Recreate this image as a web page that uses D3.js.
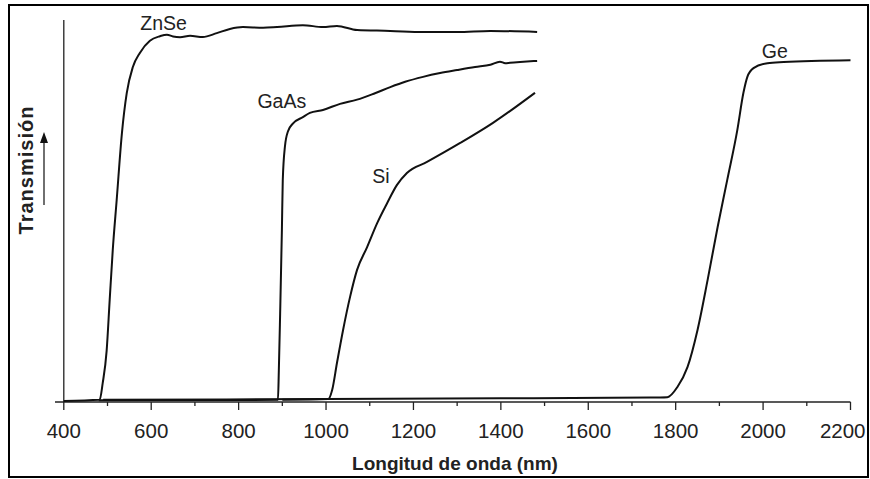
<!DOCTYPE html>
<html><head><meta charset="utf-8">
<script src="https://cdn.jsdelivr.net/npm/d3@7"></script>
<style>body{margin:0;background:#fff}svg{display:block}</style>
</head><body>
<script>
// wavelength (nm), transmission (relative, 0-100)
const ZnSe = [[400,0],[482,0.3],[489,4.7],[498,13.2],[505,26.6],[512,39.7],[521,52.9],[533,70.5],[544,81],[558,87.9],[574,91.6],[597,94.8],[620,96],[636,96.4],[650,95.9],[666,95.7],[689,96.1],[718,95.8],[750,96.8],[780,97.9],[810,98.4],[856,98.2],[888,98.4],[947,98.9],[993,98.4],[1025,98.7],[1071,97.6],[1147,97.4],[1222,97.1],[1300,97.1],[1376,97.4],[1483,97.1]];
const GaAs = [[480,0.2],[890,0.3],[892,8],[895,23],[899,45],[901,58],[906,67],[913,71],[924,73],[947,74.7],[963,75.8],[993,76.6],[1032,78.2],[1071,79.3],[1112,81],[1147,82.6],[1181,84],[1222,85.3],[1261,86.3],[1300,87.1],[1341,87.9],[1376,88.5],[1398,89.3],[1410,88.9],[1421,89.0],[1444,89.2],[1483,89.5]];
const Si = [[900,0.3],[1005,0.5],[1014,2.9],[1025,10],[1039,18.7],[1055,27.4],[1071,34.5],[1094,40.5],[1117,46.8],[1140,52.1],[1162,56.8],[1185,60],[1231,62.9],[1307,67.9],[1382,73.2],[1478,81.1]];
const Ge = [[490,0.3],[1000,0.5],[1400,0.7],[1742,0.9],[1781,1],[1804,3.7],[1827,8.9],[1850,18.7],[1873,31.8],[1896,45.8],[1918,58.2],[1941,71.3],[1955,81.1],[1964,85.3],[1978,87.6],[2010,88.9],[2047,89.2],[2200,89.7]];
const seriesNames = ["ZnSe","GaAs","Si","Ge"];
const labelAnchors = [[575,97.6],[843,77.1],[1106,57.4],[1997,90.3]]; // label start (nm, value)
const majorTicks = [400,600,800,1000,1200,1400,1600,1800,2000,2200];
const minorTicks = [500,700,900,1100,1300,1500,1700,1900,2100];
const xTitle = "Longitud de onda (nm)";
const yTitle = "Transmisión";

const W = 870, H = 479;
const svg = d3.select("body").append("svg").attr("width", W).attr("height", H);
svg.append("rect").attr("x",9).attr("y",5).attr("width",859).attr("height",472)
  .attr("fill","none").attr("stroke","#000").attr("stroke-width",2);

const x = d3.scaleLinear().domain([400,2200]).range([63.8,850.5]);
const y = d3.scaleLinear().domain([0,100]).range([401,21]);
const font = "'Liberation Sans', Arial, sans-serif";

// y axis line
svg.append("line").attr("x1",x(400)).attr("x2",x(400)).attr("y1",20).attr("y2",402)
  .attr("stroke","#222").attr("stroke-width",1.3);

// x axis
const ax = svg.append("g").attr("transform",`translate(0,${y(0)+1})`);
ax.append("line").attr("x1",55).attr("x2",x(2200)).attr("stroke","#222").attr("stroke-width",1.5);
ax.selectAll(".maj").data(majorTicks).join("line")
  .attr("x1",d=>x(d)).attr("x2",d=>x(d)).attr("y1",0).attr("y2",8).attr("stroke","#222").attr("stroke-width",1.3);
ax.selectAll(".min").data(minorTicks).join("line")
  .attr("x1",d=>x(d)).attr("x2",d=>x(d)).attr("y1",0).attr("y2",4).attr("stroke","#222").attr("stroke-width",1.3);
ax.selectAll("text").data(majorTicks).join("text")
  .attr("x",(d,i)=> i===majorTicks.length-1 ? x(d)+15 : x(d))
  .attr("y",36)
  .attr("text-anchor",(d,i)=> i===majorTicks.length-1 ? "end" : "middle")
  .attr("font-family",font).attr("font-size",20.5).attr("fill","#222").text(d=>d);

// titles
svg.append("text").attr("x",455).attr("y",470).attr("text-anchor","middle")
  .attr("font-family",font).attr("font-size",19).attr("font-weight","bold").attr("fill","#222").text(xTitle);
svg.append("text").attr("transform","translate(33,170) rotate(-90)").attr("text-anchor","middle")
  .attr("font-family",font).attr("font-size",20).attr("font-weight","bold").attr("letter-spacing",1).attr("fill","#222").text(yTitle);
// arrow
svg.append("line").attr("x1",44).attr("x2",44).attr("y1",205).attr("y2",140).attr("stroke","#222").attr("stroke-width",1.3);
svg.append("path").attr("d","M44,132 L48,143 L40,143 Z").attr("fill","#111");

// curves
const line = d3.line().x(d=>x(d[0])).y(d=>y(d[1])).curve(d3.curveMonotoneX);
[ZnSe,GaAs,Si,Ge].forEach(s=>{
  svg.append("path").datum(s).attr("d",line).attr("fill","none")
    .attr("stroke","#111").attr("stroke-width",2).attr("stroke-linejoin","round");
});
svg.selectAll(".lab").data(seriesNames).join("text")
  .attr("x",(d,i)=>x(labelAnchors[i][0])).attr("y",(d,i)=>y(labelAnchors[i][1]))
  .attr("font-family",font).attr("font-size",19.5).attr("fill","#222").text(d=>d);
</script>
</body></html>
